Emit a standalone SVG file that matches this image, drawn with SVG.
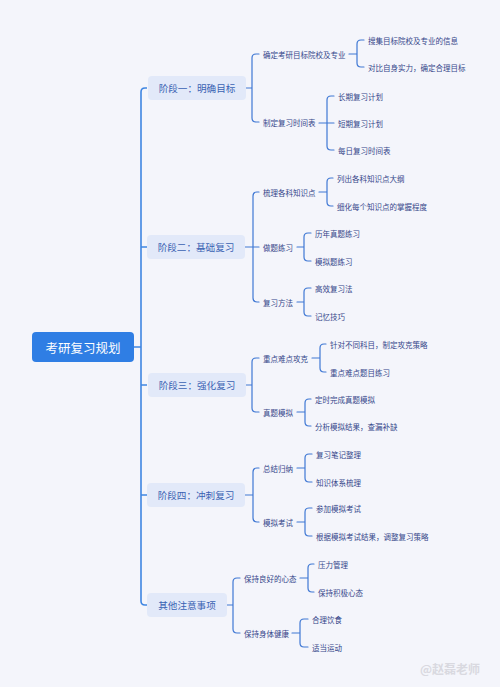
<svg xmlns="http://www.w3.org/2000/svg" width="500" height="687" viewBox="0 0 500 687">
<style>
text{font-family:"Noto Sans CJK SC","Noto Sans",sans-serif;dominant-baseline:central}
.root-box{fill:#2f7ee4}
.root-t{fill:#ffffff;font-size:12.5px}
.l1-box{fill:#e2e9f9}
.l1-t{fill:#3a62b3;font-size:9.6px}
.t{fill:#34468a;font-size:7.5px}
.trunk{fill:none;stroke:#3f86e2;stroke-width:1.6}
.ln{fill:none;stroke:#3f78d4;stroke-width:1.2;stroke-linecap:round}
.wm{fill:#d9d9e0;font-size:12px;font-weight:bold}
</style>
<rect width="500" height="687" fill="#f4f5fb"/>
<g id="connectors">
<path class="trunk" d="M134 347H141M147 88H145Q141 88 141 92V601Q141 605 145 605H147M141 247H147M141 385H147M141 495H147"/>
<!-- stage 1 -->
<path class="ln" d="M246 88H252M252 88V58Q252 54 256 54H259M252 88V118Q252 122 256 122H259"/>
<path class="ln" d="M349 54H357M357 54V44Q357 40 361 40H364M357 54V63Q357 67 361 67H364"/>
<path class="ln" d="M319 123H334M327 123V100Q327 96 331 96H334M327 123V146Q327 150 331 150H334"/>
<!-- stage 2 -->
<path class="ln" d="M245 247H259M253 247V196Q253 192 257 192H259M253 247V298Q253 302 257 302H259"/>
<path class="ln" d="M319 192H327M327 192V182Q327 178 331 178H333M327 192V202Q327 206 331 206H333"/>
<path class="ln" d="M297 247H304M304 247V237Q304 233 308 233H311M304 247V257Q304 261 308 261H311"/>
<path class="ln" d="M297 302H304M304 302V292Q304 288 308 288H311M304 302V312Q304 316 308 316H311"/>
<!-- stage 3 -->
<path class="ln" d="M246 385H252M252 385V362Q252 358 256 358H259M252 385V408Q252 412 256 412H259"/>
<path class="ln" d="M312 358H320M320 358V348Q320 344 324 344H326M320 358V368Q320 372 324 372H326"/>
<path class="ln" d="M297 412H305M305 412V403Q305 399 309 399H311M305 412V422Q305 426 309 426H311"/>
<!-- stage 4 -->
<path class="ln" d="M245 495H253M253 495V472Q253 468 257 468H259M253 495V518Q253 522 257 522H259"/>
<path class="ln" d="M297 468H305M305 468V458Q305 454 309 454H312M305 468V478Q305 482 309 482H312"/>
<path class="ln" d="M297 522H305M305 522V512Q305 508 309 508H312M305 522V532Q305 536 309 536H312"/>
<!-- other -->
<path class="ln" d="M227 605H233M233 605V582Q233 578 237 578H240M233 605V629Q233 633 237 633H240"/>
<path class="ln" d="M300 578H308M308 578V568Q308 564 312 564H314M308 578V588Q308 592 312 592H314"/>
<path class="ln" d="M292 633H300M300 633V623Q300 619 304 619H308M300 633V643Q300 647 304 647H308"/>
</g>
<g id="root"><rect class="root-box" x="32" y="332" width="102" height="30" rx="4"/><text class="root-t" x="83" y="347" text-anchor="middle">考研复习规划</text></g>
<g id="stage1">
<rect class="l1-box" x="148" y="76" width="98" height="24" rx="4"/><text class="l1-t" x="197" y="88" text-anchor="middle">阶段一：明确目标</text>
<text class="t" x="263" y="54">确定考研目标院校及专业</text>
<text class="t" x="368" y="40">搜集目标院校及专业的信息</text>
<text class="t" x="368" y="67">对比自身实力，确定合理目标</text>
<text class="t" x="263" y="122">制定复习时间表</text>
<text class="t" x="338" y="96">长期复习计划</text>
<text class="t" x="338" y="123">短期复习计划</text>
<text class="t" x="338" y="150">每日复习时间表</text>
</g>
<g id="stage2">
<rect class="l1-box" x="147" y="235" width="98" height="24" rx="4"/><text class="l1-t" x="196" y="247" text-anchor="middle">阶段二：基础复习</text>
<text class="t" x="263" y="192">梳理各科知识点</text>
<text class="t" x="337" y="178">列出各科知识点大纲</text>
<text class="t" x="337" y="206">细化每个知识点的掌握程度</text>
<text class="t" x="263" y="247">做题练习</text>
<text class="t" x="315" y="233">历年真题练习</text>
<text class="t" x="315" y="261">模拟题练习</text>
<text class="t" x="263" y="302">复习方法</text>
<text class="t" x="315" y="288">高效复习法</text>
<text class="t" x="315" y="316">记忆技巧</text>
</g>
<g id="stage3">
<rect class="l1-box" x="148" y="373" width="98" height="24" rx="4"/><text class="l1-t" x="197" y="385" text-anchor="middle">阶段三：强化复习</text>
<text class="t" x="263" y="358">重点难点攻克</text>
<text class="t" x="330" y="344">针对不同科目，制定攻克策略</text>
<text class="t" x="330" y="372">重点难点题目练习</text>
<text class="t" x="263" y="412">真题模拟</text>
<text class="t" x="315" y="399">定时完成真题模拟</text>
<text class="t" x="315" y="426">分析模拟结果，查漏补缺</text>
</g>
<g id="stage4">
<rect class="l1-box" x="147" y="483" width="98" height="24" rx="4"/><text class="l1-t" x="196" y="495" text-anchor="middle">阶段四：冲刺复习</text>
<text class="t" x="263" y="468">总结归纳</text>
<text class="t" x="316" y="454">复习笔记整理</text>
<text class="t" x="316" y="482">知识体系梳理</text>
<text class="t" x="263" y="522">模拟考试</text>
<text class="t" x="316" y="508">参加模拟考试</text>
<text class="t" x="316" y="536">根据模拟考试结果，调整复习策略</text>
</g>
<g id="other">
<rect class="l1-box" x="147" y="593" width="80" height="24" rx="4"/><text class="l1-t" x="187" y="605" text-anchor="middle">其他注意事项</text>
<text class="t" x="244" y="578">保持良好的心态</text>
<text class="t" x="318" y="564">压力管理</text>
<text class="t" x="318" y="592">保持积极心态</text>
<text class="t" x="244" y="633">保持身体健康</text>
<text class="t" x="312" y="619">合理饮食</text>
<text class="t" x="312" y="647">适当运动</text>
</g>
<text class="wm" x="420" y="668">@赵磊老师</text>
</svg>
